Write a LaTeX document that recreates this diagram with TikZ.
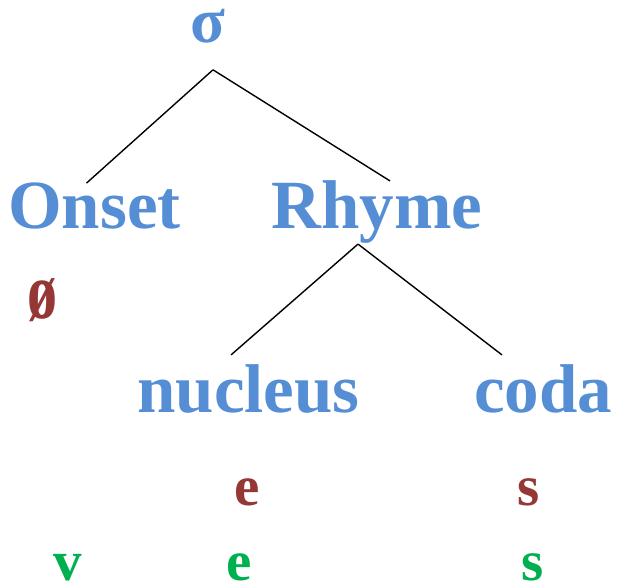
\documentclass[tikz,border=0pt]{standalone}
\usepackage{fontspec}
\setmainfont{Liberation Serif}
\usetikzlibrary{positioning}

\definecolor{nodeblue}{HTML}{558ED5}
\definecolor{segred}{HTML}{953735}
\definecolor{seggreen}{HTML}{00B050}

\tikzset{
  constituent/.style={text=nodeblue, inner sep=0pt, anchor=base,
    font=\fontsize{69}{69}\selectfont\bfseries},
  underlying/.style={text=segred, inner sep=0pt, anchor=base,
    font=\fontsize{57}{57}\selectfont\bfseries},
  surface/.style={text=seggreen, inner sep=0pt, anchor=base,
    font=\fontsize{57}{57}\selectfont\bfseries},
  branch/.style={draw=black, line width=1.4pt}
}

\begin{document}
\begin{tikzpicture}[x=1pt, y=-1pt]
  \useasboundingbox (0,0) rectangle (617,585);
  % syllable tree
  \node[constituent, font=\fontsize{64}{64}\selectfont\bfseries] (sigma) at (208,43) {σ};
  \node[constituent] (onset) at (94.5,228) {Onset};
  \node[constituent] (rhyme) at (377,228) {Rhyme};
  \node[constituent] (nucleus) at (248.5,412) {nucleus};
  \node[constituent] (coda) at (543,412) {coda};
  \draw[branch] ([shift={(5,26)}]sigma.south) -- ([shift={(-8,1)}]onset.north);
  \draw[branch] ([shift={(5,26)}]sigma.south) -- ([shift={(13,1)}]rhyme.north);
  \draw[branch] ([shift={(-19,1)}]rhyme.south) -- ([shift={(-17.5,-9)}]nucleus.north);
  \draw[branch] ([shift={(-19,1)}]rhyme.south) -- ([shift={(-41,-9)}]coda.north);
  % segments
  \node[underlying, font=\fontsize{80}{80}\selectfont\bfseries, xscale=0.75] (onsetseg) at (42,318) {ø};
  \node[underlying] (nucseg) at (247.5,505) {e};
  \node[underlying] (codaseg) at (528.5,505) {s};
  \node[surface] (onsetout) at (67.5,580) {v};
  \node[surface] (nucout) at (239.5,580) {e};
  \node[surface] (codaout) at (533,580) {s};
\end{tikzpicture}
\end{document}
